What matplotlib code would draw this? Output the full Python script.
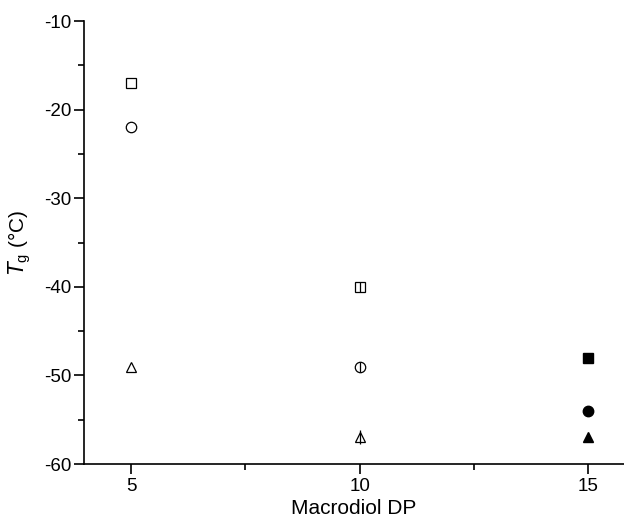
import matplotlib
matplotlib.use("Agg")
import matplotlib.pyplot as plt
from matplotlib.ticker import MultipleLocator

plt.rcParams['font.family'] = ['Liberation Sans', 'DejaVu Sans']
plt.rcParams['axes.unicode_minus'] = False

dp_open5 = [5, 5, 5]
tg_open5 = [-17, -22, -49]
dp_10 = [10, 10, 10]
tg_10 = [-40, -49, -57]
dp_15 = [15, 15, 15]
tg_15 = [-48, -54, -57]
markers = ['s', 'o', '^']

fig = plt.figure(figsize=(6.24, 5.27), dpi=100)
ax = fig.add_axes([0.1346, 0.1195, 0.8654, 0.8405])

for x, y, m in zip(dp_open5, tg_open5, markers):
    ax.plot(x, y, marker=m, ms=7.5, mfc='white', mec='black', mew=0.9, ls='none', clip_on=False)
for x, y, m in zip(dp_10, tg_10, markers):
    ax.plot(x, y, marker=m, ms=7.5, mfc='white', mec='black', mew=0.9, ls='none', clip_on=False)
    ax.plot(x, y, marker='|', ms=10 if m == '^' else 7.5, mec='black', mew=0.9, ls='none', clip_on=False)
for x, y, m in zip(dp_15, tg_15, markers):
    ax.plot(x, y, marker=m, ms=7.5, mfc='black', mec='black', ls='none', clip_on=False)

ax.set_xlim(3.97, 15.78)
ax.set_ylim(-60, -10)
ax.xaxis.set_major_locator(MultipleLocator(5))
ax.xaxis.set_minor_locator(MultipleLocator(2.5))
ax.yaxis.set_major_locator(MultipleLocator(10))
ax.yaxis.set_minor_locator(MultipleLocator(5))
ax.spines['top'].set_visible(False)
ax.spines['right'].set_visible(False)
for s in ['left', 'bottom']:
    ax.spines[s].set_linewidth(1.2)
ax.tick_params(which='major', direction='out', length=7, width=1.2, labelsize=13.5)
ax.tick_params(axis='x', which='major', pad=3)
ax.tick_params(axis='y', which='major', pad=2)
ax.tick_params(which='minor', direction='out', length=4, width=1.2)
ax.set_xlabel('Macrodiol DP', fontsize=15, labelpad=3)
ax.set_ylabel(r'$T_{\mathregular{g}}$ (°C)', fontsize=15, labelpad=8)

fig.savefig('out.png', dpi=100)
